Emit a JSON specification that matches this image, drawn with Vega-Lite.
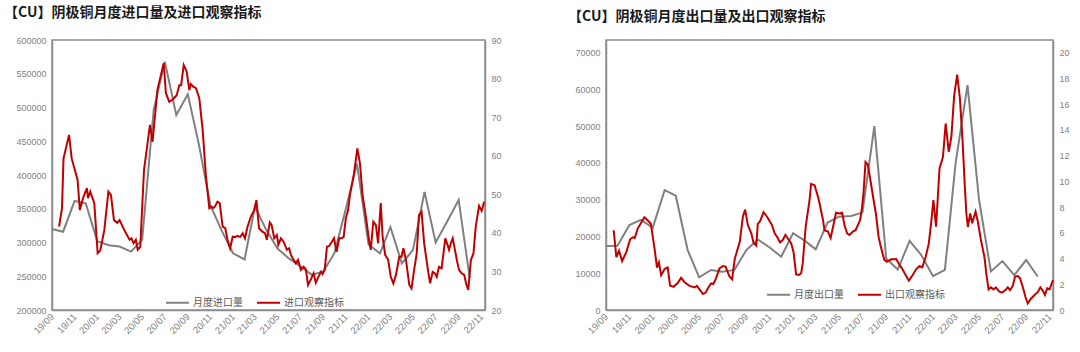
{
 "$schema": "https://vega.github.io/schema/vega-lite/v6.json",
 "background": "white",
 "padding": {"left": 3, "top": 5, "right": 5, "bottom": 5},
 "config": {
  "font": "Liberation Sans",
  "view": {"stroke": "#8c8c8c", "strokeWidth": 1.5},
  "axis": {"grid": false, "ticks": false, "domainColor": "#8c8c8c", "domainWidth": 1.5, "labelColor": "#7f7f7f", "labelFontSize": 9, "labelFont": "Liberation Sans", "labelPadding": 6, "title": null},
  "axisX": {"labelOverlap": false, "labelFontSize": 9.5, "labelAngle": -45, "labelAlign": "right", "labelBaseline": "middle", "labelPadding": 5},
  "legend": {"labelFont": "Noto Sans CJK SC", "labelFontSize": 10, "labelColor": "#595959", "symbolType": "stroke", "symbolSize": 529, "symbolStrokeWidth": 2, "columnPadding": 10, "labelOffset": 3, "direction": "horizontal", "orient": "none", "title": null}
 },
 "datasets": {
  "imp_vol": [
   {"d":"2019-09-01","v":320000},{"d":"2019-10-01","v":316000},{"d":"2019-11-01","v":361500},{"d":"2019-12-01","v":358000},
   {"d":"2020-01-01","v":302000},{"d":"2020-02-01","v":296000},{"d":"2020-03-01","v":294000},{"d":"2020-04-01","v":286500},
   {"d":"2020-05-01","v":304000},{"d":"2020-06-01","v":496000},{"d":"2020-07-01","v":568000},{"d":"2020-08-01","v":489000},
   {"d":"2020-09-01","v":519500},{"d":"2020-10-01","v":445000},{"d":"2020-11-01","v":355000},{"d":"2020-12-01","v":318000},
   {"d":"2021-01-01","v":284000},{"d":"2021-02-01","v":275000},{"d":"2021-03-01","v":353000},{"d":"2021-04-01","v":318000},
   {"d":"2021-05-01","v":291000},{"d":"2021-06-01","v":276000},{"d":"2021-07-01","v":265000},{"d":"2021-08-01","v":252000},
   {"d":"2021-09-01","v":257000},{"d":"2021-10-01","v":284000},{"d":"2021-11-01","v":350000},{"d":"2021-12-01","v":417000},
   {"d":"2022-01-01","v":297000},{"d":"2022-02-01","v":284000},{"d":"2022-03-01","v":323000},{"d":"2022-04-01","v":269000},
   {"d":"2022-05-01","v":289000},{"d":"2022-06-01","v":375000},{"d":"2022-07-01","v":300000},{"d":"2022-08-01","v":331000},
   {"d":"2022-09-01","v":363000},{"d":"2022-10-01","v":247000}
  ],
  "imp_idx": [
   {"d":"2019-09-20","v":41.6},{"d":"2019-09-28","v":46.4},{"d":"2019-10-02","v":59.3},{"d":"2019-10-17","v":65.4},
   {"d":"2019-10-24","v":59.3},{"d":"2019-11-09","v":53.7},{"d":"2019-11-15","v":45.9},{"d":"2019-11-25","v":49.4},
   {"d":"2019-12-04","v":51.6},{"d":"2019-12-07","v":49.0},{"d":"2019-12-13","v":50.7},{"d":"2019-12-24","v":47.7},
   {"d":"2020-01-02","v":34.7},{"d":"2020-01-09","v":35.4},{"d":"2020-01-20","v":40.7},{"d":"2020-01-31","v":50.7},
   {"d":"2020-02-07","v":49.8},{"d":"2020-02-15","v":43.3},{"d":"2020-02-24","v":42.6},{"d":"2020-03-01","v":43.3},
   {"d":"2020-03-14","v":40.7},{"d":"2020-03-28","v":38.2},{"d":"2020-04-02","v":38.6},{"d":"2020-04-08","v":37.3},
   {"d":"2020-04-14","v":38.2},{"d":"2020-04-19","v":35.6},{"d":"2020-04-26","v":36.4},{"d":"2020-05-02","v":48.5},
   {"d":"2020-05-06","v":56.3},{"d":"2020-05-22","v":68.0},{"d":"2020-05-29","v":63.6},{"d":"2020-06-11","v":77.0},
   {"d":"2020-06-28","v":84.0},{"d":"2020-07-04","v":76.2},{"d":"2020-07-13","v":74.0},{"d":"2020-07-22","v":74.5},
   {"d":"2020-08-02","v":75.7},{"d":"2020-08-09","v":78.3},{"d":"2020-08-14","v":78.3},{"d":"2020-08-21","v":83.5},
   {"d":"2020-08-29","v":81.8},{"d":"2020-09-05","v":77.0},{"d":"2020-09-09","v":78.6},{"d":"2020-09-16","v":77.9},
   {"d":"2020-09-23","v":77.5},{"d":"2020-10-02","v":74.9},{"d":"2020-10-11","v":66.7},{"d":"2020-10-20","v":54.6},
   {"d":"2020-10-29","v":46.4},{"d":"2020-11-04","v":46.8},{"d":"2020-11-08","v":46.4},{"d":"2020-11-13","v":46.8},
   {"d":"2020-11-20","v":48.1},{"d":"2020-11-26","v":47.7},{"d":"2020-12-04","v":41.6},{"d":"2020-12-11","v":41.2},
   {"d":"2020-12-17","v":38.2},{"d":"2020-12-24","v":36.0},{"d":"2020-12-31","v":39.0},{"d":"2021-01-06","v":38.9},
   {"d":"2021-01-13","v":39.2},{"d":"2021-01-20","v":38.9},{"d":"2021-01-27","v":39.9},{"d":"2021-02-02","v":38.6},
   {"d":"2021-02-09","v":41.6},{"d":"2021-02-18","v":44.2},{"d":"2021-02-27","v":45.9},{"d":"2021-03-05","v":48.5},
   {"d":"2021-03-12","v":41.2},{"d":"2021-03-21","v":40.3},{"d":"2021-03-28","v":39.9},{"d":"2021-04-02","v":38.2},
   {"d":"2021-04-10","v":42.7},{"d":"2021-04-15","v":42.0},{"d":"2021-04-22","v":38.6},{"d":"2021-04-29","v":39.4},
   {"d":"2021-05-03","v":36.9},{"d":"2021-05-10","v":38.6},{"d":"2021-05-17","v":37.7},{"d":"2021-05-26","v":35.6},
   {"d":"2021-06-01","v":36.0},{"d":"2021-06-06","v":34.3},{"d":"2021-06-13","v":33.0},{"d":"2021-06-19","v":32.1},
   {"d":"2021-06-25","v":33.0},{"d":"2021-07-03","v":30.4},{"d":"2021-07-10","v":31.2},{"d":"2021-07-16","v":30.6},
   {"d":"2021-07-22","v":26.5},{"d":"2021-07-30","v":28.0},{"d":"2021-08-06","v":29.5},{"d":"2021-08-12","v":27.1},
   {"d":"2021-08-19","v":28.6},{"d":"2021-08-26","v":29.9},{"d":"2021-08-30","v":29.3},{"d":"2021-09-05","v":30.4},
   {"d":"2021-09-11","v":36.4},{"d":"2021-09-17","v":36.6},{"d":"2021-09-23","v":37.5},{"d":"2021-09-30","v":38.6},
   {"d":"2021-10-07","v":35.1},{"d":"2021-10-14","v":38.6},{"d":"2021-10-20","v":38.6},{"d":"2021-10-26","v":38.9},
   {"d":"2021-11-01","v":43.8},{"d":"2021-11-07","v":45.9},{"d":"2021-11-12","v":49.8},{"d":"2021-11-23","v":55.4},
   {"d":"2021-12-02","v":61.9},{"d":"2021-12-09","v":58.0},{"d":"2021-12-16","v":49.8},{"d":"2021-12-25","v":44.2},
   {"d":"2022-01-03","v":37.7},{"d":"2022-01-07","v":35.6},{"d":"2022-01-14","v":42.9},{"d":"2022-01-21","v":42.0},
   {"d":"2022-01-27","v":37.3},{"d":"2022-02-03","v":47.7},{"d":"2022-02-08","v":39.0},{"d":"2022-02-15","v":34.3},
   {"d":"2022-02-23","v":33.0},{"d":"2022-03-02","v":28.6},{"d":"2022-03-09","v":26.9},{"d":"2022-03-16","v":29.1},
   {"d":"2022-03-25","v":33.8},{"d":"2022-03-31","v":33.8},{"d":"2022-04-05","v":36.0},{"d":"2022-04-12","v":33.0},
   {"d":"2022-04-21","v":26.5},{"d":"2022-04-27","v":25.6},{"d":"2022-05-04","v":30.4},{"d":"2022-05-11","v":34.7},
   {"d":"2022-05-17","v":44.6},{"d":"2022-05-24","v":45.5},{"d":"2022-05-31","v":37.3},{"d":"2022-06-09","v":31.2},
   {"d":"2022-06-16","v":26.9},{"d":"2022-06-23","v":29.9},{"d":"2022-06-29","v":29.5},{"d":"2022-07-04","v":28.6},
   {"d":"2022-07-10","v":31.2},{"d":"2022-07-17","v":30.8},{"d":"2022-07-22","v":34.7},{"d":"2022-07-27","v":38.6},
   {"d":"2022-08-02","v":36.9},{"d":"2022-08-06","v":35.6},{"d":"2022-08-11","v":37.3},{"d":"2022-08-16","v":38.6},
   {"d":"2022-08-22","v":35.6},{"d":"2022-08-27","v":33.0},{"d":"2022-09-02","v":30.4},{"d":"2022-09-09","v":29.5},
   {"d":"2022-09-16","v":29.1},{"d":"2022-09-21","v":26.9},{"d":"2022-09-27","v":25.2},{"d":"2022-10-04","v":33.0},
   {"d":"2022-10-11","v":34.7},{"d":"2022-10-17","v":41.6},{"d":"2022-10-26","v":47.0},{"d":"2022-11-02","v":45.7},
   {"d":"2022-11-09","v":48.1}
  ],
  "exp_vol": [
   {"d":"2019-09-01","v":17400},{"d":"2019-10-01","v":17500},{"d":"2019-11-01","v":23100},{"d":"2019-12-01","v":24500},
   {"d":"2020-01-01","v":22400},{"d":"2020-02-01","v":32600},{"d":"2020-03-01","v":31100},{"d":"2020-04-01","v":16300},
   {"d":"2020-05-01","v":8900},{"d":"2020-06-01","v":10900},{"d":"2020-07-01","v":10400},{"d":"2020-08-01","v":10900},
   {"d":"2020-09-01","v":16300},{"d":"2020-10-01","v":19200},{"d":"2020-11-01","v":17000},{"d":"2020-12-01","v":14500},
   {"d":"2021-01-01","v":20900},{"d":"2021-02-01","v":18800},{"d":"2021-03-01","v":16500},{"d":"2021-04-01","v":23800},
   {"d":"2021-05-01","v":25400},{"d":"2021-06-01","v":25600},{"d":"2021-07-01","v":26500},{"d":"2021-08-01","v":50000},
   {"d":"2021-09-01","v":14000},{"d":"2021-10-01","v":11000},{"d":"2021-11-01","v":18800},{"d":"2021-12-01","v":15000},
   {"d":"2022-01-01","v":9200},{"d":"2022-02-01","v":10900},{"d":"2022-03-01","v":40000},{"d":"2022-04-01","v":61200},
   {"d":"2022-05-01","v":30000},{"d":"2022-06-01","v":10500},{"d":"2022-07-01","v":13300},{"d":"2022-08-01","v":9500},
   {"d":"2022-09-01","v":13600},{"d":"2022-10-01","v":9100}
  ],
  "exp_idx": [
   {"d":"2019-09-21","v":6.2},{"d":"2019-09-28","v":4.1},{"d":"2019-10-05","v":4.6},{"d":"2019-10-13","v":3.8},
   {"d":"2019-10-24","v":4.5},{"d":"2019-11-03","v":5.5},{"d":"2019-11-10","v":5.65},{"d":"2019-11-15","v":5.6},
   {"d":"2019-11-23","v":6.35},{"d":"2019-12-10","v":7.2},{"d":"2019-12-21","v":6.9},{"d":"2019-12-27","v":6.7},
   {"d":"2020-01-06","v":4.7},{"d":"2020-01-12","v":3.3},{"d":"2020-01-17","v":3.7},{"d":"2020-01-23","v":2.7},
   {"d":"2020-02-01","v":3.2},{"d":"2020-02-09","v":3.3},{"d":"2020-02-15","v":1.9},{"d":"2020-02-24","v":1.8},
   {"d":"2020-03-06","v":2.1},{"d":"2020-03-15","v":2.5},{"d":"2020-03-24","v":2.15},{"d":"2020-04-06","v":1.87},
   {"d":"2020-04-19","v":1.76},{"d":"2020-04-25","v":1.87},{"d":"2020-05-02","v":1.6},{"d":"2020-05-11","v":1.24},
   {"d":"2020-05-18","v":1.35},{"d":"2020-05-24","v":1.69},{"d":"2020-06-01","v":2.07},{"d":"2020-06-07","v":2.02},
   {"d":"2020-06-14","v":2.46},{"d":"2020-06-23","v":3.24},{"d":"2020-07-02","v":3.42},{"d":"2020-07-09","v":3.37},
   {"d":"2020-07-19","v":2.6},{"d":"2020-07-26","v":2.39},{"d":"2020-08-02","v":4.0},{"d":"2020-08-15","v":5.3},
   {"d":"2020-08-23","v":7.25},{"d":"2020-08-29","v":7.8},{"d":"2020-09-05","v":6.6},{"d":"2020-09-14","v":5.96},
   {"d":"2020-09-20","v":5.2},{"d":"2020-09-27","v":5.0},{"d":"2020-10-01","v":6.7},{"d":"2020-10-07","v":6.9},
   {"d":"2020-10-16","v":7.6},{"d":"2020-10-25","v":7.25},{"d":"2020-11-01","v":6.9},{"d":"2020-11-07","v":6.6},
   {"d":"2020-11-14","v":5.96},{"d":"2020-11-20","v":5.7},{"d":"2020-11-28","v":5.26},{"d":"2020-12-05","v":5.44},
   {"d":"2020-12-12","v":5.83},{"d":"2020-12-21","v":5.44},{"d":"2020-12-27","v":5.18},{"d":"2021-01-02","v":4.53},
   {"d":"2021-01-09","v":2.77},{"d":"2021-01-16","v":2.72},{"d":"2021-01-22","v":2.85},{"d":"2021-01-26","v":3.6},
   {"d":"2021-02-03","v":6.5},{"d":"2021-02-13","v":8.55},{"d":"2021-02-17","v":9.8},{"d":"2021-02-26","v":9.7},
   {"d":"2021-03-07","v":8.8},{"d":"2021-03-11","v":8.3},{"d":"2021-03-20","v":7.0},{"d":"2021-03-24","v":6.2},
   {"d":"2021-04-02","v":6.1},{"d":"2021-04-09","v":5.6},{"d":"2021-04-17","v":6.7},{"d":"2021-04-23","v":7.56},
   {"d":"2021-05-02","v":7.5},{"d":"2021-05-09","v":7.56},{"d":"2021-05-15","v":6.6},{"d":"2021-05-22","v":5.96},
   {"d":"2021-05-28","v":5.83},{"d":"2021-06-06","v":6.1},{"d":"2021-06-13","v":6.2},{"d":"2021-06-19","v":6.6},
   {"d":"2021-06-25","v":7.0},{"d":"2021-06-30","v":8.0},{"d":"2021-07-04","v":9.2},{"d":"2021-07-09","v":11.5},
   {"d":"2021-07-15","v":11.3},{"d":"2021-07-23","v":9.85},{"d":"2021-07-30","v":8.55},{"d":"2021-08-05","v":7.5},
   {"d":"2021-08-12","v":5.7},{"d":"2021-08-18","v":4.9},{"d":"2021-08-27","v":3.9},{"d":"2021-09-03","v":3.75},
   {"d":"2021-09-14","v":3.94},{"d":"2021-09-22","v":3.94},{"d":"2021-09-27","v":3.96},{"d":"2021-10-06","v":3.5},
   {"d":"2021-10-12","v":3.24},{"d":"2021-10-19","v":2.85},{"d":"2021-10-30","v":2.28},{"d":"2021-11-09","v":2.72},
   {"d":"2021-11-18","v":3.16},{"d":"2021-11-27","v":3.42},{"d":"2021-12-04","v":3.32},{"d":"2021-12-13","v":4.14},
   {"d":"2021-12-21","v":5.18},{"d":"2021-12-27","v":6.74},{"d":"2022-01-02","v":8.55},{"d":"2022-01-09","v":6.47},
   {"d":"2022-01-18","v":11.0},{"d":"2022-01-27","v":11.9},{"d":"2022-02-03","v":14.5},{"d":"2022-02-11","v":12.3},
   {"d":"2022-02-18","v":13.5},{"d":"2022-02-25","v":16.6},{"d":"2022-03-05","v":18.3},{"d":"2022-03-12","v":16.5},
   {"d":"2022-03-19","v":13.2},{"d":"2022-03-25","v":9.6},{"d":"2022-03-29","v":7.5},{"d":"2022-04-02","v":6.47},
   {"d":"2022-04-08","v":7.5},{"d":"2022-04-13","v":6.74},{"d":"2022-04-22","v":7.64},{"d":"2022-04-28","v":6.86},
   {"d":"2022-05-06","v":5.44},{"d":"2022-05-15","v":4.14},{"d":"2022-05-21","v":2.6},{"d":"2022-05-26","v":1.6},
   {"d":"2022-06-01","v":1.76},{"d":"2022-06-08","v":1.6},{"d":"2022-06-14","v":1.76},{"d":"2022-06-23","v":1.42},
   {"d":"2022-06-30","v":1.35},{"d":"2022-07-09","v":1.55},{"d":"2022-07-15","v":1.76},{"d":"2022-07-21","v":1.55},
   {"d":"2022-07-28","v":1.87},{"d":"2022-08-03","v":2.6},{"d":"2022-08-10","v":2.64},{"d":"2022-08-16","v":2.46},
   {"d":"2022-08-23","v":1.8},{"d":"2022-08-30","v":1.03},{"d":"2022-09-05","v":0.52},{"d":"2022-09-14","v":0.9},
   {"d":"2022-09-23","v":1.17},{"d":"2022-10-02","v":1.42},{"d":"2022-10-08","v":1.76},{"d":"2022-10-15","v":1.48},
   {"d":"2022-10-20","v":1.17},{"d":"2022-10-26","v":1.69},{"d":"2022-11-01","v":1.6},{"d":"2022-11-10","v":2.33}
  ]
 },
 "spacing": 54,
 "resolve": {"scale": {"color": "independent"}, "legend": {"color": "independent"}},
 "hconcat": [
  {
   "title": {"text": "【CU】阴极铜月度进口量及进口观察指标", "anchor": "start", "frame": "group", "dx": -48, "offset": 16, "fontSize": 14, "fontWeight": "bold", "font": "Noto Sans CJK SC", "color": "#1a1a1a"},
   "width": 433, "height": 270,
   "resolve": {"scale": {"y": "independent"}},
   "layer": [
    {
     "data": {"name": "imp_vol"},
     "mark": {"type": "line", "strokeWidth": 2},
     "encoding": {
      "x": {"field": "d", "type": "temporal", "scale": {"type": "utc", "nice": false, "domain": [{"year": 2019, "month": 9, "date": 1, "utc": true}, {"year": 2022, "month": 11, "date": 11, "utc": true}]}, "axis": {"format": "%y/%m", "tickCount": {"interval": "month", "step": 2}}},
      "y": {"field": "v", "type": "quantitative", "scale": {"domain": [200000, 600000], "nice": false, "zero": false}, "axis": {"orient": "left", "values": [200000, 250000, 300000, 350000, 400000, 450000, 500000, 550000, 600000], "format": "d", "minExtent": 48, "maxExtent": 48}},
      "color": {"datum": "月度进口量", "scale": {"domain": ["月度进口量", "进口观察指标"], "range": ["#808080", "#C00000"]}, "legend": {"legendX": 113, "legendY": 250}}
     }
    },
    {
     "data": {"name": "imp_idx"},
     "mark": {"type": "line", "strokeWidth": 2},
     "encoding": {
      "x": {"field": "d", "type": "temporal"},
      "y": {"field": "v", "type": "quantitative", "scale": {"domain": [20, 90], "nice": false, "zero": false}, "axis": {"orient": "right", "values": [20, 30, 40, 50, 60, 70, 80, 90], "format": "d", "minExtent": 20, "maxExtent": 20}},
      "color": {"datum": "进口观察指标"}
     }
    }
   ]
  },
  {
   "title": {"text": "【CU】阴极铜月度出口量及出口观察指标", "anchor": "start", "frame": "group", "dx": -38, "offset": 16, "fontSize": 14, "fontWeight": "bold", "font": "Noto Sans CJK SC", "color": "#1a1a1a"},
   "width": 447, "height": 270,
   "resolve": {"scale": {"y": "independent"}},
   "layer": [
    {
     "data": {"name": "exp_vol"},
     "mark": {"type": "line", "strokeWidth": 2},
     "encoding": {
      "x": {"field": "d", "type": "temporal", "scale": {"type": "utc", "nice": false, "domain": [{"year": 2019, "month": 9, "date": 1, "utc": true}, {"year": 2022, "month": 11, "date": 10, "utc": true}]}, "axis": {"format": "%y/%m", "tickCount": {"interval": "month", "step": 2}}},
      "y": {"field": "v", "type": "quantitative", "scale": {"domain": [0, 73455], "nice": false}, "axis": {"orient": "left", "values": [0, 10000, 20000, 30000, 40000, 50000, 60000, 70000], "format": "d", "minExtent": 45, "maxExtent": 45}},
      "color": {"datum": "月度出口量", "scale": {"domain": ["月度出口量", "出口观察指标"], "range": ["#808080", "#C00000"]}, "legend": {"legendX": 160, "legendY": 242}}
     }
    },
    {
     "data": {"name": "exp_idx"},
     "mark": {"type": "line", "strokeWidth": 2},
     "encoding": {
      "x": {"field": "d", "type": "temporal"},
      "y": {"field": "v", "type": "quantitative", "scale": {"domain": [0, 20.987], "nice": false}, "axis": {"orient": "right", "values": [0, 2, 4, 6, 8, 10, 12, 14, 16, 18, 20], "format": "d", "minExtent": 20, "maxExtent": 20}},
      "color": {"datum": "出口观察指标"}
     }
    }
   ]
  }
 ]
}
